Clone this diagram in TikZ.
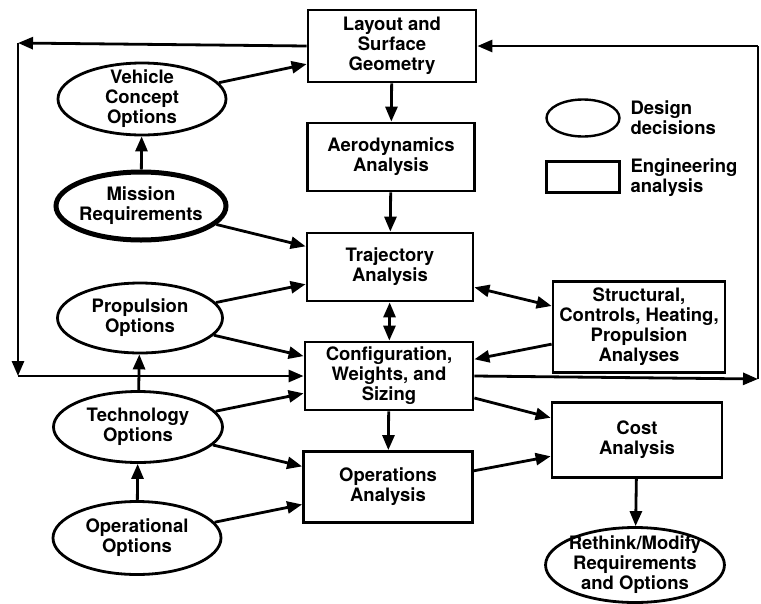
\documentclass[tikz,border=0pt]{standalone}
\usepackage{fontspec}
\setmainfont{TeX Gyre Heros}
\usepackage{tikz}
\usetikzlibrary{arrows.meta, shapes.geometric}

\begin{document}
\begin{tikzpicture}[x=1pt, y=-1pt,
    every node/.style={font=\bfseries\fontsize{18.5}{20}\selectfont, align=center},
    analysis/.style={draw, rectangle, line width=2.8pt, inner sep=0pt},
    decision/.style={draw, ellipse, line width=2.8pt, inner xsep=-3pt, inner ysep=-4pt},
    flow/.style={line width=2.8pt, -{Triangle[length=15pt, width=12pt]}},
    twoway/.style={line width=2.8pt, {Triangle[length=15pt, width=12pt]}-{Triangle[length=15pt, width=12pt]}}]
    \useasboundingbox (0,0) rectangle (761,603);

    % engineering analyses
    \node[analysis, minimum width=168pt, minimum height=72pt] (layout) at (392,46) {Layout and\\Surface\\Geometry};
    \node[analysis, minimum width=167pt, minimum height=68pt] (aero) at (391,157) {Aerodynamics\\Analysis};
    \node[analysis, minimum width=166pt, minimum height=68pt] (traj) at (390,267) {Trajectory\\Analysis};
    \node[analysis, minimum width=168pt, minimum height=68pt] (config) at (389,376) {Configuration,\\Weights, and\\Sizing};
    \node[analysis, minimum width=169pt, minimum height=71pt] (ops) at (388,487) {Operations\\Analysis};
    \node[analysis, minimum width=172pt, minimum height=91pt] (struct) at (639,327) {Structural,\\Controls, Heating,\\Propulsion\\Analyses};
    \node[analysis, minimum width=170pt, minimum height=75pt] (cost) at (637,440) {Cost\\Analysis};

    % design decisions
    \node[decision, minimum width=168pt, minimum height=72pt] (vehicle) at (142,99) {Vehicle\\Concept\\Options};
    \node[decision, line width=5pt, minimum width=170pt, minimum height=68pt] (mission) at (141,206) {Mission\\Requirements};
    \node[decision, minimum width=165pt, minimum height=70pt] (prop) at (140,318) {Propulsion\\Options};
    \node[decision, minimum width=169pt, minimum height=71pt] (tech) at (138,427) {Technology\\Options};
    \node[decision, minimum width=168pt, minimum height=73pt] (oper) at (137,538) {Operational\\Options};
    \node[decision, minimum width=176pt, minimum height=75pt] (rethink) at (635,565) {Rethink/Modify\\Requirements\\and Options};

    % legend
    \node[decision, line width=2.4pt, minimum width=73pt, minimum height=37pt] (legell) at (583,118) {};
    \node[anchor=west, align=left] (legdec) at (627,118) {Design\\decisions};
    \node[analysis, line width=2.4pt, minimum width=73pt, minimum height=31pt] (legbox) at (583,177) {};
    \node[anchor=west, align=left] (legeng) at (627,178) {Engineering\\analysis};

    % feedback loops
    \coordinate (tl) at (18,43);
    \coordinate (bl) at (18,376);
    \coordinate (tr) at (758,46);
    \coordinate (br) at (758,379);

    \draw[flow] (vehicle) -- (layout);
    \draw[flow] (mission) -- (vehicle);
    \draw[flow] (mission) -- (traj);
    \draw[flow] (prop) -- (traj);
    \draw[flow] (prop) -- (config);
    \draw[flow] (tech) -- (prop);
    \draw[flow] (tech) -- (config);
    \draw[flow] (tech) -- (ops);
    \draw[flow] (oper) -- (tech);
    \draw[flow] (oper) -- (ops);
    \draw[flow] (layout) -- (aero);
    \draw[flow] (aero) -- (traj);
    \draw[twoway] (traj) -- (config);
    \draw[twoway] (traj) -- (struct);
    \draw[flow] (struct) -- (config);
    \draw[flow] (config) -- (ops);
    \draw[flow] (config) -- (cost);
    \draw[flow] (ops) -- (cost);
    \draw[flow] (cost) -- (rethink);

    \draw[flow] (layout.west) -- (tl);
    \draw[flow] (tl) -- (bl);
    \draw[flow] (bl) -- (config.west);
    \draw[flow] (config.east) -- (br);
    \draw[line width=2.8pt] (br) -- (tr);
    \draw[flow] (tr) -- (layout.east);
\end{tikzpicture}
\end{document}
